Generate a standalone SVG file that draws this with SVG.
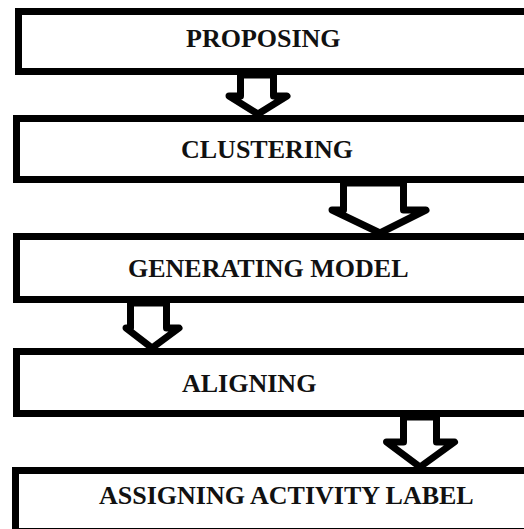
<svg xmlns="http://www.w3.org/2000/svg" width="524" height="529" viewBox="0 0 524 529">
<style>
.box{fill:#fff;stroke:#000;stroke-width:7}
.arr{fill:#fff;stroke:#000;stroke-width:7;stroke-linejoin:round}
.lbl{font-family:"Liberation Serif","Times New Roman",serif;font-weight:bold;font-size:26px;fill:#111}
</style>
<rect width="524" height="529" fill="#fff"/>
<g id="n1"><rect class="box" x="18.5" y="11.5" width="520" height="60"/><text class="lbl" x="186" y="47">PROPOSING</text></g>
<g id="n2"><rect class="box" x="16.5" y="118.5" width="520" height="61"/><text class="lbl" x="181" y="158">CLUSTERING</text></g>
<g id="n3"><rect class="box" x="16.5" y="236.5" width="520" height="63"/><text class="lbl" x="128" y="277">GENERATING MODEL</text></g>
<g id="n4"><rect class="box" x="16.5" y="351.5" width="520" height="62"/><text class="lbl" x="182" y="392">ALIGNING</text></g>
<g id="n5"><rect class="box" x="15.5" y="470.5" width="520" height="61"/><text class="lbl" x="99" y="504">ASSIGNING ACTIVITY LABEL</text></g>
<g id="connectors">
<polygon class="arr" points="240.5,75 240.5,96 229,96 258,114 287,96 273.5,96 273.5,75"/>
<polygon class="arr" points="343.5,183 343.5,210 332,210 380,233 426,210 403.5,210 403.5,183"/>
<polygon class="arr" points="130.5,303 130.5,328 126,328 152,348 179,328 166.5,328 166.5,303"/>
<polygon class="arr" points="403.5,417 403.5,442 386.5,442 420,467 454.5,442 436.5,442 436.5,417"/>
</g>
</svg>
